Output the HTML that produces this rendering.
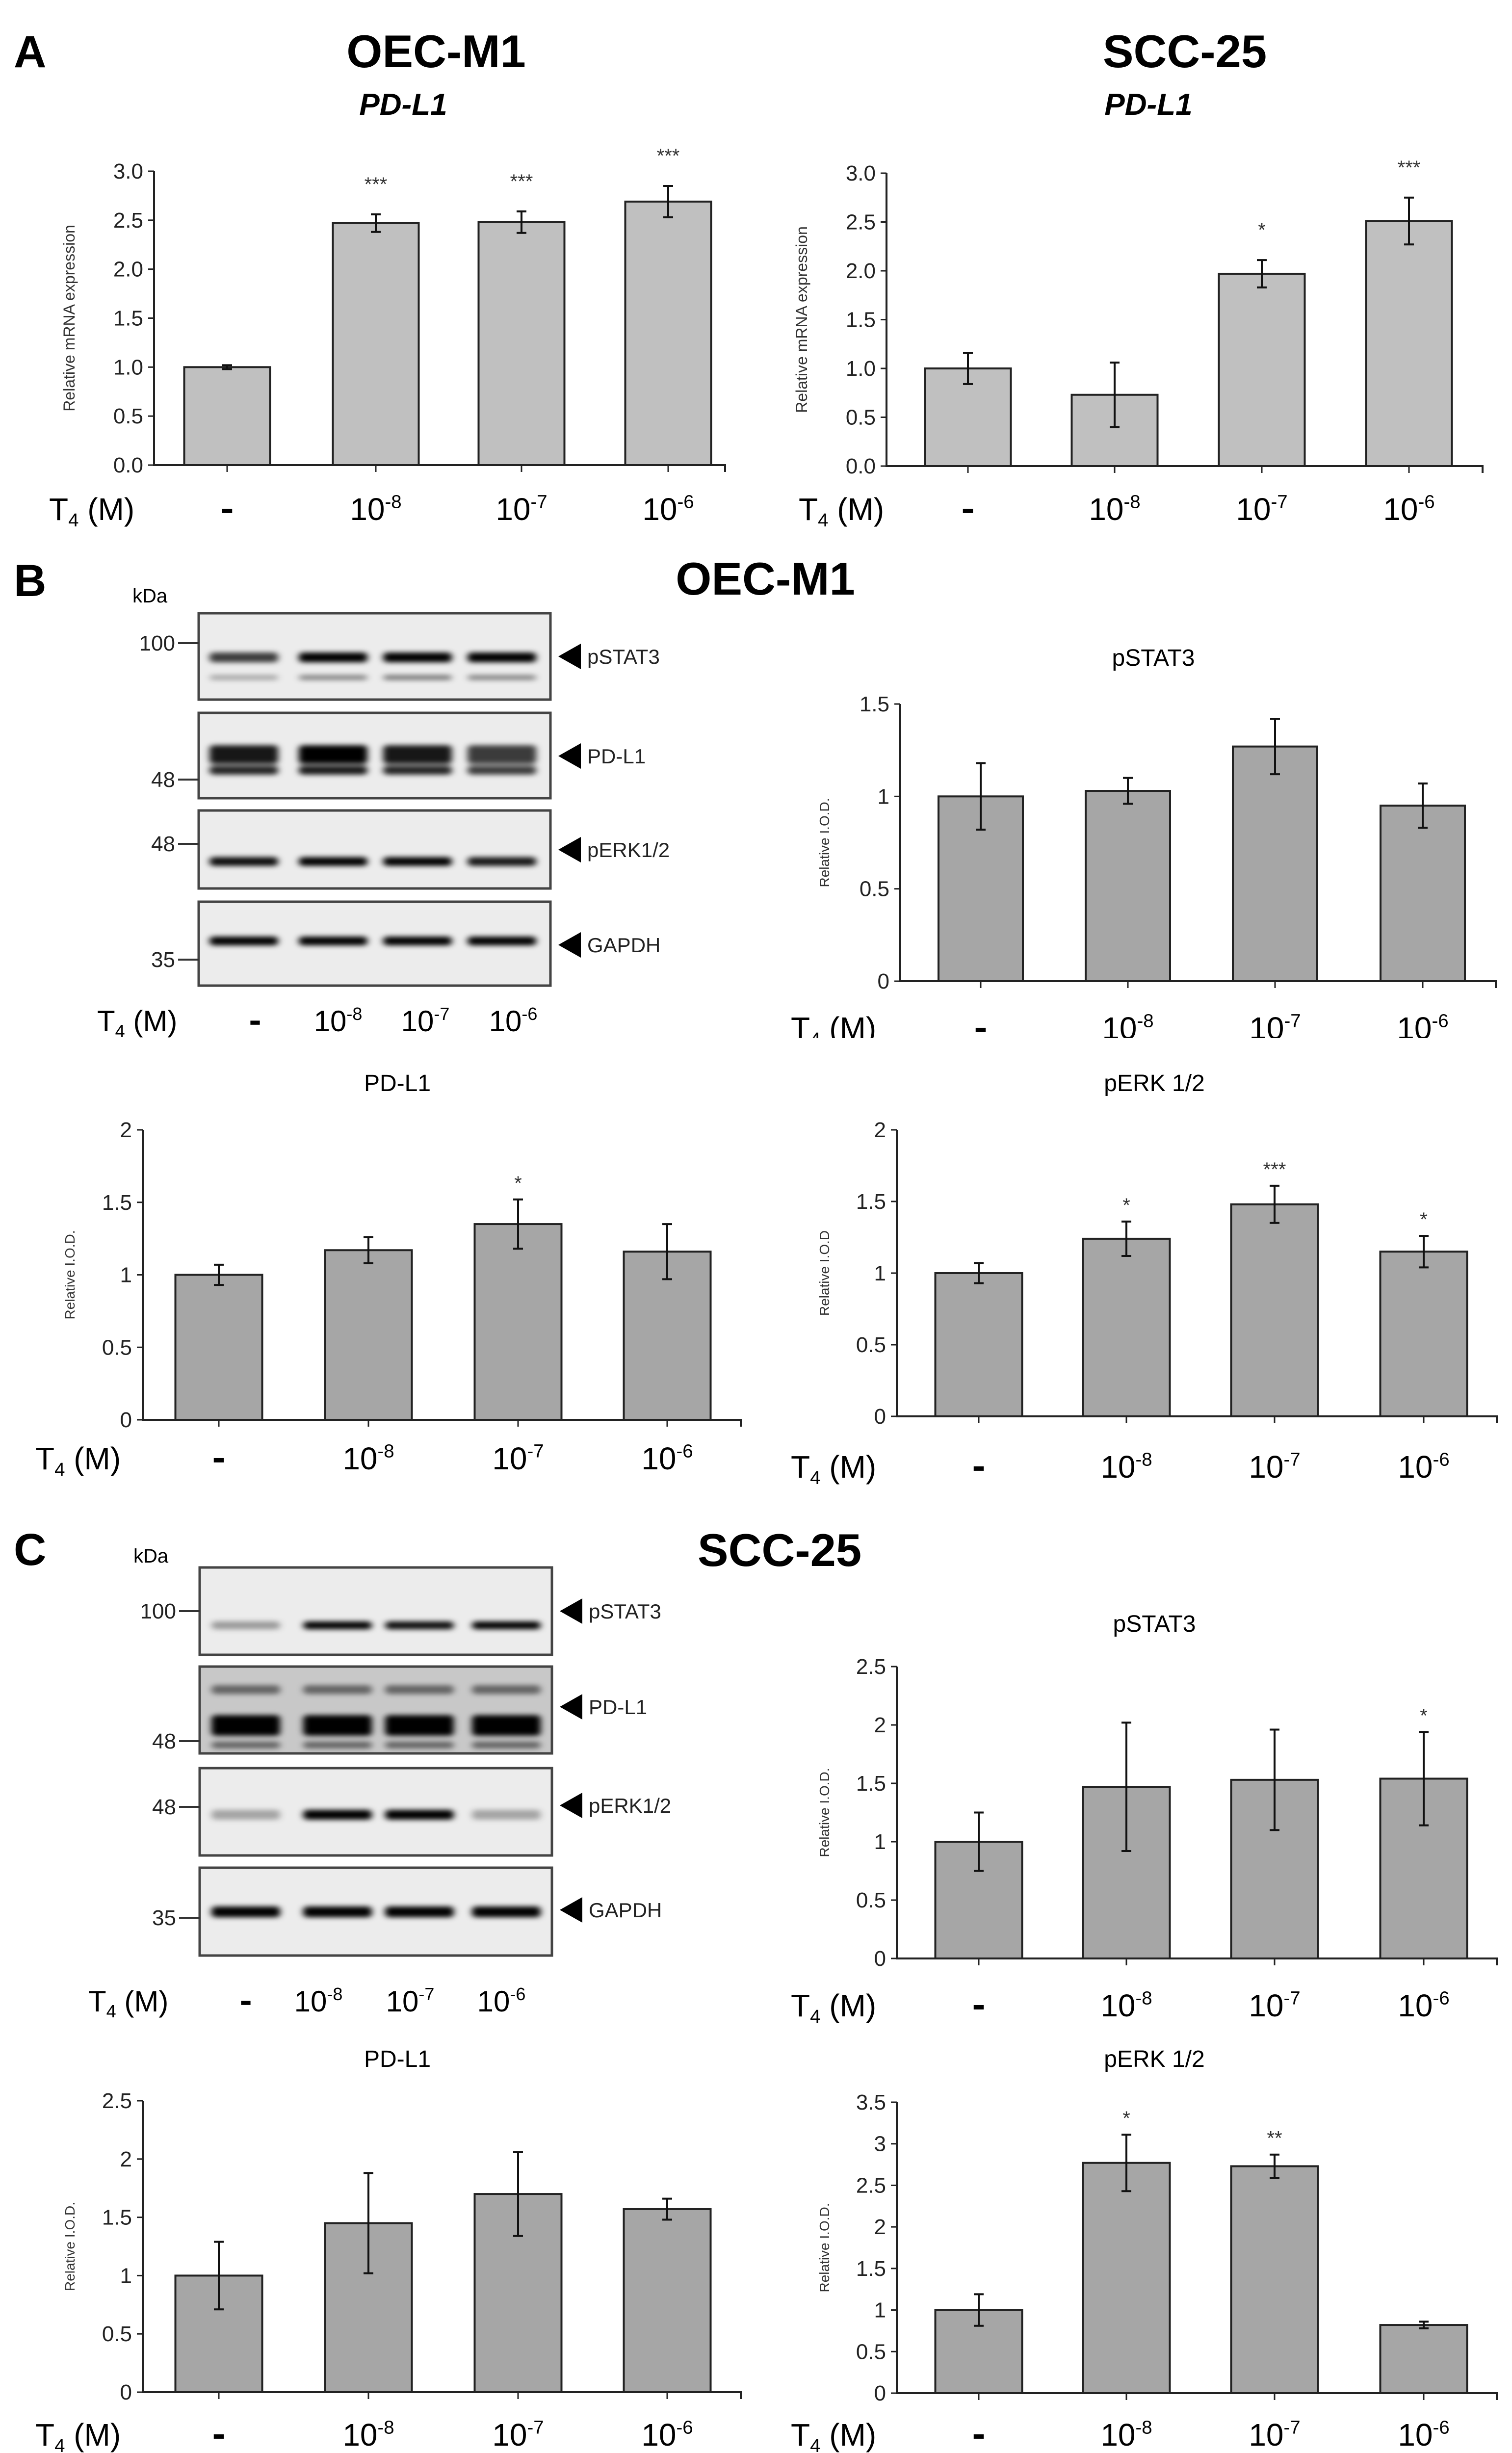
<!DOCTYPE html>
<html><head><meta charset="utf-8">
<style>
html,body{margin:0;padding:0;background:#fff;width:3082px;height:5033px;overflow:hidden;}
svg{display:block;font-family:"Liberation Sans",sans-serif;}
</style></head>
<body>
<svg id="fig" width="3082" height="5033" viewBox="0 0 3082 5033" xmlns="http://www.w3.org/2000/svg" overflow="hidden">
<defs>
<filter id="blur" x="-20%" y="-200%" width="140%" height="500%"><feGaussianBlur stdDeviation="7 5"/></filter>
</defs>
<g id="static" font-family="Liberation Sans, sans-serif">
<text x="28" y="137" font-size="92" font-weight="bold">A</text>
<text x="889" y="137" font-size="94" font-weight="bold" text-anchor="middle">OEC-M1</text>
<text x="822" y="234" font-size="62" font-weight="bold" font-style="italic" text-anchor="middle">PD-L1</text>
<text x="2415" y="137" font-size="94" font-weight="bold" text-anchor="middle">SCC-25</text>
<text x="2341" y="234" font-size="62" font-weight="bold" font-style="italic" text-anchor="middle">PD-L1</text>
<text x="28" y="1215" font-size="92" font-weight="bold">B</text>
<text x="1560" y="1212" font-size="94" font-weight="bold" text-anchor="middle">OEC-M1</text>
<text x="28" y="3190" font-size="92" font-weight="bold">C</text>
<text x="1589" y="3192" font-size="94" font-weight="bold" text-anchor="middle">SCC-25</text>
</g>
<g id="charts"></g>
<g id="blots"></g>
<rect x="0" y="2116" width="3082" height="60" fill="#fff"/>
</svg>
<script>
// ---------- chart data ----------
const categories = ["-", "10-8", "10-7", "10-6"];
const aOecValues = [1.0, 2.47, 2.48, 2.69];
const aOecErr = [0.02, 0.09, 0.11, 0.16];
const aOecStars = ["", "***", "***", "***"];
const aSccValues = [1.0, 0.73, 1.97, 2.51];
const aSccErr = [0.16, 0.33, 0.14, 0.24];
const aSccStars = ["", "", "*", "***"];
const aTicks = ["0.0", "0.5", "1.0", "1.5", "2.0", "2.5", "3.0"];
const bStatValues = [1.0, 1.03, 1.27, 0.95];
const bStatErr = [0.18, 0.07, 0.15, 0.12];
const bStatStars = ["", "", "", ""];
const bStatTicks = ["0", "0.5", "1", "1.5"];
const bPdl1Values = [1.0, 1.17, 1.35, 1.16];
const bPdl1Err = [0.07, 0.09, 0.17, 0.19];
const bPdl1Stars = ["", "", "*", ""];
const bErkValues = [1.0, 1.24, 1.48, 1.15];
const bErkErr = [0.07, 0.12, 0.13, 0.11];
const bErkStars = ["", "*", "***", "*"];
const bTicks2 = ["0", "0.5", "1", "1.5", "2"];
const cStatValues = [1.0, 1.47, 1.53, 1.54];
const cStatErr = [0.25, 0.55, 0.43, 0.40];
const cStatStars = ["", "", "", "*"];
const cPdl1Values = [1.0, 1.45, 1.70, 1.57];
const cPdl1Err = [0.29, 0.43, 0.36, 0.09];
const cPdl1Stars = ["", "", "", ""];
const cTicks25 = ["0", "0.5", "1", "1.5", "2", "2.5"];
const cErkValues = [1.0, 2.77, 2.73, 0.82];
const cErkErr = [0.19, 0.34, 0.14, 0.04];
const cErkStars = ["", "*", "**", ""];
const cTicks35 = ["0", "0.5", "1", "1.5", "2", "2.5", "3", "3.5"];

const NS = "http://www.w3.org/2000/svg";
function mk(tag, attrs, parent) {
  const e = document.createElementNS(NS, tag);
  for (const k in attrs) e.setAttribute(k, attrs[k]);
  parent.appendChild(e);
  return e;
}
function t4Row(parent, name, y, labelX, xs, fs) {
  const g = mk("g", {}, parent);
  
  
  const lab = mk("text", {x: labelX, y: y, "font-size": fs}, g);
  
  
  lab.appendChild(document.createTextNode("T"));
  const sub = mk("tspan", {dy: fs * 0.2, "font-size": fs * 0.6}, lab);
  sub.textContent = "4";
  const rest = mk("tspan", {dy: -fs * 0.2}, lab);
  rest.textContent = " (M)";
  categories.forEach((c, i) => {
    if (c === "-") {
      const r = mk("rect", {x: xs[i] - fs * 0.16, y: y - fs * 0.36, width: fs * 0.32, height: fs * 0.14, fill: "#000"}, g);
      
      
    } else {
      const tx = mk("text", {x: xs[i], y: y, "font-size": fs, "text-anchor": "middle"}, g);
      
      
      tx.appendChild(document.createTextNode("10"));
      const sp = mk("tspan", {dy: -fs * 0.38, "font-size": fs * 0.6}, tx);
      sp.textContent = c.slice(2);
    }
  });
}
function chart(cfg, values, errs, stars, ticks) {
  const root = document.getElementById("charts");
  const g = mk("g", {}, root);
  
  
  const max = parseFloat(ticks[ticks.length - 1]);
  const y = v => cfg.y0 - v * (cfg.y0 - cfg.yTop) / max;
  if (cfg.title) {
    const tt = mk("text", {x: cfg.titleX, y: cfg.titleY, "font-size": 48, "text-anchor": "middle"}, g);
    
    
    tt.textContent = cfg.title;
  }
  const yt = mk("text", {x: 0, y: 0, "font-size": cfg.ytFs, fill: "#333", "text-anchor": "middle", transform: `translate(${cfg.ytX},${(cfg.y0 + cfg.yTop) / 2}) rotate(-90)`}, g);
  
  
  yt.textContent = cfg.yTitle;
  values.forEach((v, i) => {
    const cx = cfg.xs[i];
    const b = mk("rect", {x: cx - cfg.bw / 2, y: y(v), width: cfg.bw, height: cfg.y0 - y(v), fill: cfg.fill, stroke: "#222", "stroke-width": 4}, g);
    
    
    const hi = y(v + errs[i]), lo = y(v - errs[i]);
    const e = mk("path", {d: `M${cx},${hi}V${lo}M${cx - 10},${hi}H${cx + 10}M${cx - 10},${lo}H${cx + 10}`, stroke: "#111", "stroke-width": 4, fill: "none"}, g);
    
    
    if (stars[i]) {
      const s = mk("text", {x: cx, y: hi - cfg.starGap, "font-size": 40, "text-anchor": "middle", fill: "#333"}, g);
      
      
      s.textContent = stars[i];
    }
    const tk = mk("line", {x1: cx, x2: cx, y1: cfg.y0, y2: cfg.y0 + 14, stroke: "#222", "stroke-width": 3}, g);
    
    
  });
  const ax = mk("path", {d: `M${cfg.ax},${cfg.yTop}V${cfg.y0}H${cfg.axEnd}V${cfg.y0 + 14}`, stroke: "#222", "stroke-width": 4, fill: "none"}, g);
  
  
  ticks.forEach(tv => {
    const yy = y(parseFloat(tv));
    const l = mk("line", {x1: cfg.ax - 12, x2: cfg.ax, y1: yy, y2: yy, stroke: "#222", "stroke-width": 3}, g);
    
    
    const tx = mk("text", {x: cfg.ax - 22, y: yy + 15, "font-size": 44, "text-anchor": "end", fill: "#222"}, g);
    
    
    tx.textContent = tv;
  });
  t4Row(g, 'x-axis-labels', cfg.t4Y, cfg.t4X, cfg.xs, 64);
}
const X1 = [446, 751, 1056, 1360], X2 = [1995, 2296, 2598, 2902];
chart({name: "chart-a-oec-m1", ax: 314, axEnd: 1478, y0: 948, yTop: 349, xs: [463, 766, 1063, 1362], bw: 175, fill: "#c0c0c0", yTitle: "Relative mRNA expression", ytX: 152, ytFs: 32, starGap: 48, t4Y: 1060, t4X: 100}, aOecValues, aOecErr, aOecStars, aTicks);
chart({name: "chart-a-scc-25", ax: 1807, axEnd: 3022, y0: 950, yTop: 353, xs: [1973, 2272, 2572, 2872], bw: 175, fill: "#c0c0c0", yTitle: "Relative mRNA expression", ytX: 1645, ytFs: 32, starGap: 48, t4Y: 1060, t4X: 1628}, aSccValues, aSccErr, aSccStars, aTicks);
chart({name: "chart-b-pstat3", title: "pSTAT3", titleX: 2351, titleY: 1357, ax: 1835, axEnd: 3049, y0: 2000, yTop: 1435, xs: [1999, 2299, 2599, 2900], bw: 172, fill: "#a6a6a6", yTitle: "Relative I.O.D.", ytX: 1690, ytFs: 28, starGap: 20, t4Y: 2118, t4X: 1612}, bStatValues, bStatErr, bStatStars, bStatTicks);
chart({name: "chart-b-pdl1", title: "PD-L1", titleX: 810, titleY: 2224, ax: 291, axEnd: 1510, y0: 2894, yTop: 2303, xs: X1, bw: 177, fill: "#a6a6a6", yTitle: "Relative I.O.D.", ytX: 152, ytFs: 28, starGap: 20, t4Y: 2995, t4X: 72}, bPdl1Values, bPdl1Err, bPdl1Stars, bTicks2);
chart({name: "chart-b-perk", title: "pERK 1/2", titleX: 2353, titleY: 2224, ax: 1828, axEnd: 3051, y0: 2887, yTop: 2303, xs: X2, bw: 177, fill: "#a6a6a6", yTitle: "Relative I.O.D", ytX: 1690, ytFs: 28, starGap: 20, t4Y: 3012, t4X: 1612}, bErkValues, bErkErr, bErkStars, bTicks2);
chart({name: "chart-c-pstat3", title: "pSTAT3", titleX: 2353, titleY: 3326, ax: 1828, axEnd: 3051, y0: 3992, yTop: 3397, xs: X2, bw: 177, fill: "#a6a6a6", yTitle: "Relative I.O.D.", ytX: 1690, ytFs: 28, starGap: 20, t4Y: 4110, t4X: 1612}, cStatValues, cStatErr, cStatStars, cTicks25);
chart({name: "chart-c-pdl1", title: "PD-L1", titleX: 810, titleY: 4213, ax: 291, axEnd: 1510, y0: 4876, yTop: 4282, xs: X1, bw: 177, fill: "#a6a6a6", yTitle: "Relative I.O.D.", ytX: 152, ytFs: 28, starGap: 20, t4Y: 4985, t4X: 72}, cPdl1Values, cPdl1Err, cPdl1Stars, cTicks25);
chart({name: "chart-c-perk", title: "pERK 1/2", titleX: 2353, titleY: 4213, ax: 1828, axEnd: 3051, y0: 4878, yTop: 4285, xs: X2, bw: 177, fill: "#a6a6a6", yTitle: "Relative I.O.D.", ytX: 1690, ytFs: 28, starGap: 20, t4Y: 4985, t4X: 1612}, cErkValues, cErkErr, cErkStars, cTicks35);

// ---------- western blots ----------
function blot(name, x0, x1, kdaY, boxes, lanes, t4Y, t4X, t4Xs) {
  const root = document.getElementById("blots");
  const g = mk("g", {}, root);
  
  
  const kd = mk("text", {x: x0 - 135, y: kdaY, "font-size": 40}, g);
  
  
  kd.textContent = "kDa";
  boxes.forEach(b => {
    const bg = mk("g", {}, g);
    
    
    mk("rect", {x: x0, y: b.y0, width: x1 - x0, height: b.y1 - b.y0, fill: b.bg || "#ececec"}, bg);
    const bl = mk("g", {filter: "url(#blur)"}, bg);
    b.bands.forEach(bd => {
      lanes.forEach((lx, i) => {
        const op = bd.ints[i];
        if (op > 0) mk("rect", {x: lx - 70, y: bd.y - bd.h / 2, width: 140, height: bd.h, fill: "#000", opacity: op, rx: 8}, bl);
      });
    });
    mk("rect", {x: x0, y: b.y0, width: x1 - x0, height: b.y1 - b.y0, fill: "none", stroke: "#444", "stroke-width": 5}, bg);
    const my = b.markY;
    mk("line", {x1: x0 - 42, x2: x0, y1: my, y2: my, stroke: "#333", "stroke-width": 4}, bg);
    const mt = mk("text", {x: x0 - 48, y: my + 15, "font-size": 44, "text-anchor": "end", fill: "#222"}, bg);
    
    
    mt.textContent = b.mark;
    const ar = mk("polygon", {points: `${x1 + 16},${b.arrowY} ${x1 + 62},${b.arrowY - 26} ${x1 + 62},${b.arrowY + 26}`, fill: "#000"}, bg);
    
    
    const lt = mk("text", {x: x1 + 75, y: b.arrowY + 15, "font-size": 42, fill: "#222"}, bg);
    
    
    lt.textContent = b.label;
  });
  t4Row(g, 'blot-x-labels', t4Y, t4X, t4Xs, 60);
}
blot("blot-b-oec-m1", 405, 1122, 1228, [
  {y0: 1250, y1: 1426, mark: "100", markY: 1311, arrowY: 1338, label: "pSTAT3",
   bands: [{y: 1340, h: 20, ints: [0.75, 1, 1, 1]}, {y: 1381, h: 10, ints: [0.3, 0.45, 0.5, 0.45]}]},
  {y0: 1453, y1: 1627, mark: "48", markY: 1589, arrowY: 1541, label: "PD-L1",
   bands: [{y: 1538, h: 38, ints: [0.9, 1, 0.9, 0.75]}, {y: 1570, h: 18, ints: [0.85, 0.9, 0.85, 0.75]}]},
  {y0: 1652, y1: 1811, mark: "48", markY: 1720, arrowY: 1732, label: "pERK1/2",
   bands: [{y: 1756, h: 18, ints: [0.95, 1, 1, 0.9]}]},
  {y0: 1838, y1: 2009, mark: "35", markY: 1956, arrowY: 1926, label: "GAPDH",
   bands: [{y: 1918, h: 18, ints: [1, 1, 1, 1]}]}
], [497, 679, 851, 1023], 2102, 198, [520, 689, 867, 1046]);
blot("blot-c-scc-25", 407, 1125, 3185, [
  {y0: 3195, y1: 3373, mark: "100", markY: 3284, arrowY: 3284, label: "pSTAT3",
   bands: [{y: 3313, h: 16, ints: [0.35, 1, 0.95, 1]}]},
  {y0: 3397, y1: 3574, mark: "48", markY: 3549, arrowY: 3479, label: "PD-L1", bg: "#c8c8c8",
   bands: [{y: 3517, h: 42, ints: [1, 1, 1, 1]}, {y: 3444, h: 18, ints: [0.5, 0.5, 0.5, 0.5]}, {y: 3557, h: 14, ints: [0.5, 0.5, 0.5, 0.5]}]},
  {y0: 3604, y1: 3782, mark: "48", markY: 3683, arrowY: 3680, label: "pERK1/2",
   bands: [{y: 3699, h: 20, ints: [0.3, 1, 1, 0.3]}]},
  {y0: 3807, y1: 3986, mark: "35", markY: 3909, arrowY: 3893, label: "GAPDH",
   bands: [{y: 3897, h: 22, ints: [1, 1, 1, 1]}]}
], [501, 688, 855, 1032], 4100, 180, [501, 649, 836, 1022]);
</script>
</body></html>
